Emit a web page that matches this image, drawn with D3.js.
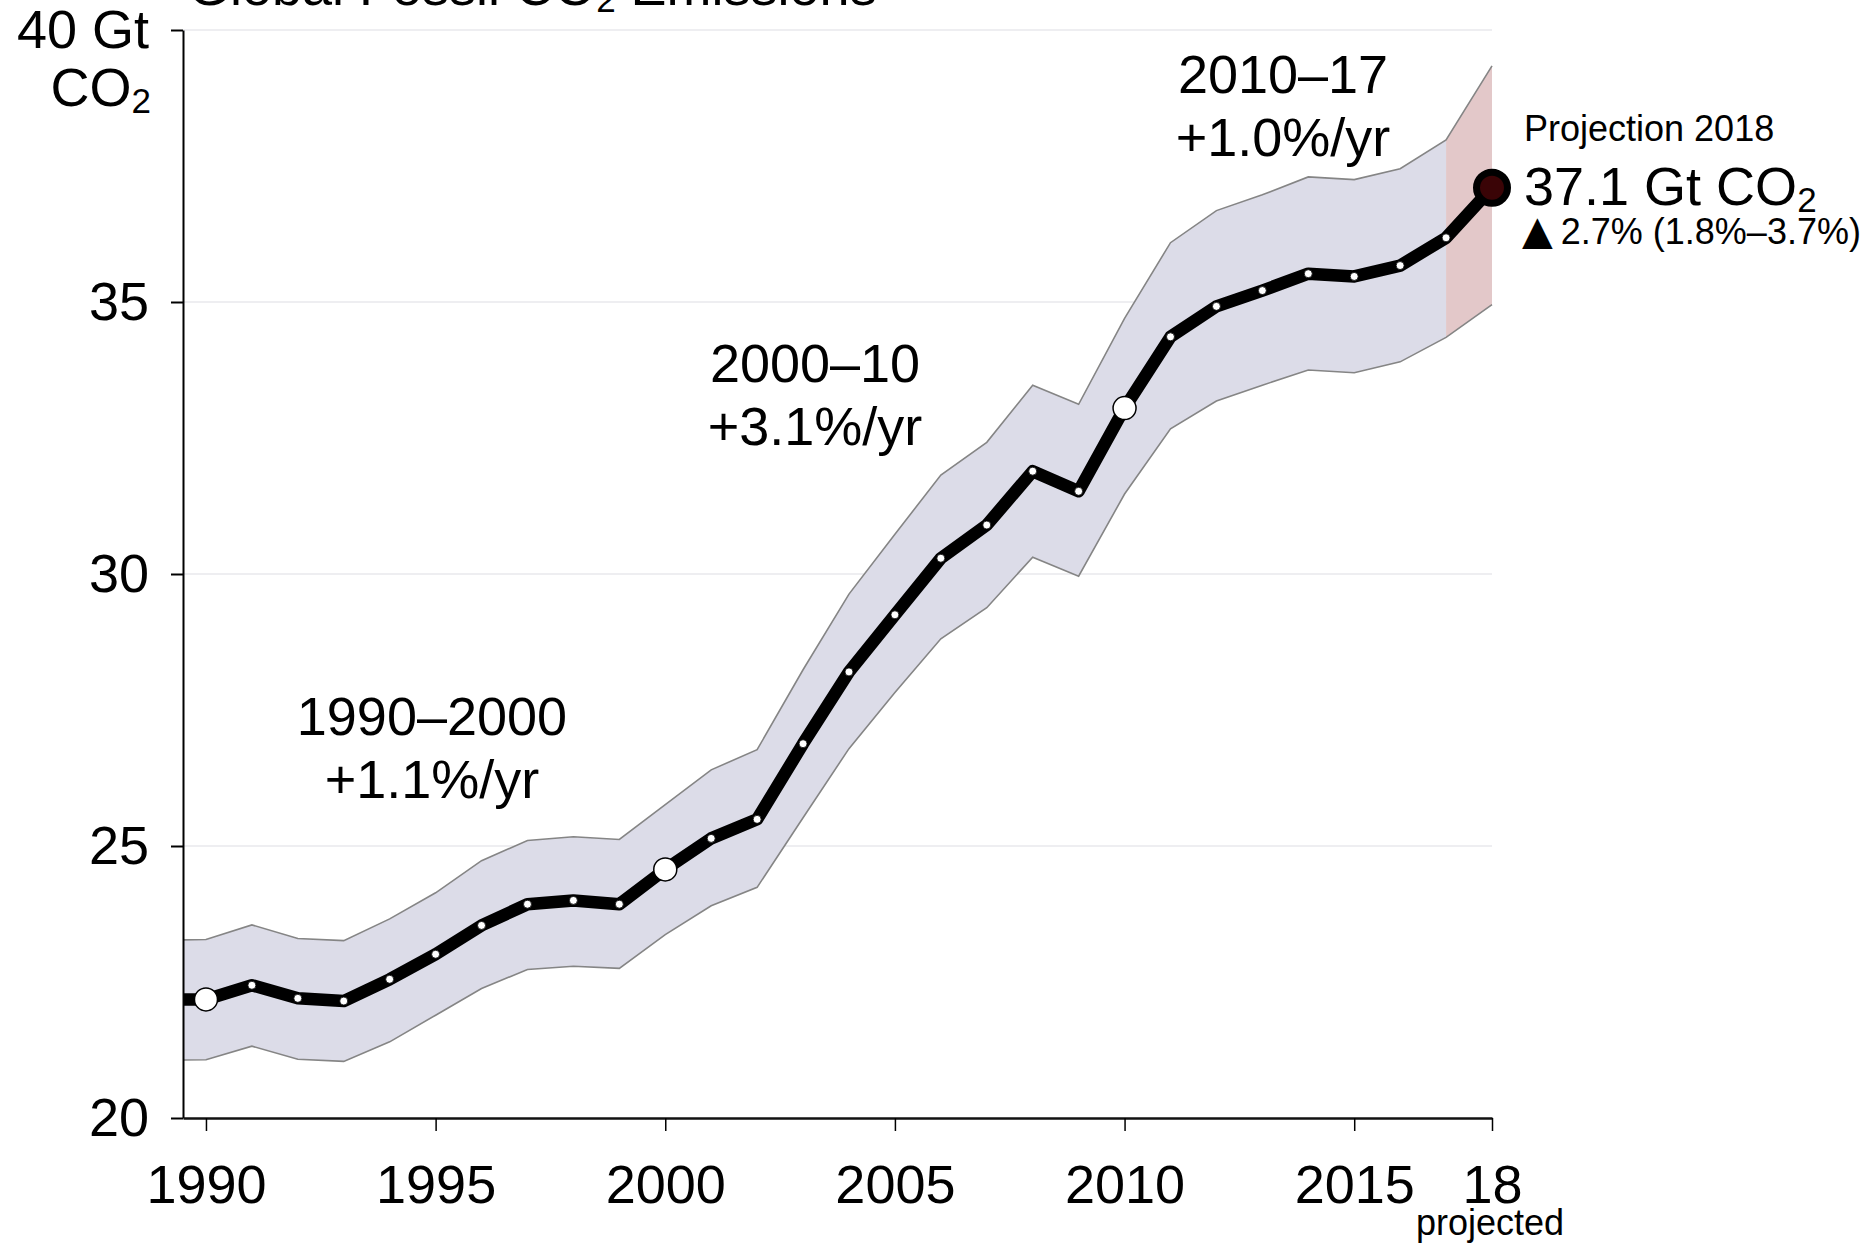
<!DOCTYPE html>
<html>
<head>
<meta charset="utf-8">
<script src="https://cdn.jsdelivr.net/npm/d3@7"></script>
<style>
  html, body { margin: 0; padding: 0; background: #fff; }
  svg { display: block; font-family: "Liberation Sans", Arial, Helvetica, sans-serif; }
</style>
</head>
<body>
<svg id="chart" width="1875" height="1246"></svg>
<script>
// Global fossil CO2 emissions, Gt CO2 per year (2018 is the projection)
const years = [1989, 1990, 1991, 1992, 1993, 1994, 1995, 1996, 1997, 1998, 1999,
               2000, 2001, 2002, 2003, 2004, 2005, 2006, 2007, 2008, 2009,
               2010, 2011, 2012, 2013, 2014, 2015, 2016, 2017, 2018];
const emissions = [22.18, 22.18, 22.44, 22.20, 22.15, 22.55, 23.01, 23.54, 23.93, 24.00, 23.93,
                   24.57, 25.14, 25.49, 26.88, 28.20, 29.25, 30.29, 30.90, 31.89, 31.52,
                   33.05, 34.36, 34.92, 35.21, 35.52, 35.47, 35.67, 36.18, 37.10];
const upperBound = [23.27, 23.28, 23.55, 23.30, 23.26, 23.66, 24.14, 24.73, 25.10, 25.17, 25.12,
                    25.76, 26.40, 26.77, 28.24, 29.63, 30.73, 31.82, 32.42, 33.47, 33.12,
                    34.70, 36.09, 36.68, 36.97, 37.30, 37.25, 37.45, 37.98, 39.34];
const lowerBound = [21.06, 21.07, 21.32, 21.08, 21.04, 21.40, 21.89, 22.38, 22.73, 22.79, 22.75,
                    23.37, 23.90, 24.24, 25.52, 26.79, 27.82, 28.81, 29.38, 30.31, 29.96,
                    31.47, 32.67, 33.18, 33.47, 33.75, 33.70, 33.90, 34.35, 34.95];

const markerYears = [1990, 2000, 2010];   // larger open circles
const projectionYear = 2018;

const xTickValues = [1990, 1995, 2000, 2005, 2010, 2015, 2018];
const xTickLabels = ["1990", "1995", "2000", "2005", "2010", "2015", "18"];
const yTickValues = [20, 25, 30, 35, 40];
const yTickLabels = ["20", "25", "30", "35", "40 Gt"];

// Growth-rate notes: centre year and baseline value of the first line
const periodNames = ["1990–2000", "2000–10", "2010–17"];
const periodRates = ["+1.1%/yr", "+3.1%/yr", "+1.0%/yr"];
const periodAnchorYear = [1994.92, 2003.26, 2013.45];
const periodAnchorValue = [27.04, 33.53, 38.84];

const projectionLabel = "Projection 2018";
const projectionValue = "37.1";
const projectionChange = "2.7% (1.8%–3.7%)";

// ---- layout ----
const svg = d3.select("#chart");
const FONT = 54;
const x = d3.scaleLinear().domain([1989.5, 2018]).range([183, 1492]);
const y = d3.scaleLinear().domain([20, 40]).range([1118, 30]);

const rows = years.map((yr, i) => ({ year: yr, value: emissions[i], hi: upperBound[i], lo: lowerBound[i] }));

svg.append("rect").attr("width", 1875).attr("height", 1246).attr("fill", "#fff");

// clip everything left of the value axis
svg.append("defs").append("clipPath").attr("id", "plotClip")
  .append("rect").attr("x", x.range()[0]).attr("y", 0).attr("width", 1600).attr("height", 1246);

// horizontal grid
svg.append("g").selectAll("line")
  .data(yTickValues.filter(v => v !== 20))
  .join("line")
  .attr("x1", x.range()[0]).attr("x2", x.range()[1])
  .attr("y1", d => y(d)).attr("y2", d => y(d))
  .attr("stroke", "#e8e8ec").attr("stroke-width", 1.5);

const plot = svg.append("g").attr("clip-path", "url(#plotClip)");

// uncertainty band: observed years in lavender, projected year in pink
const band = d3.area().x(d => x(d.year)).y0(d => y(d.lo)).y1(d => y(d.hi));
const observed = rows.filter(d => d.year <= 2017);
const projected = rows.filter(d => d.year >= 2017);
plot.append("path").datum(observed).attr("d", band).attr("fill", "#dcdce8");
plot.append("path").datum(projected).attr("d", band).attr("fill", "#e3c8c9");

const edge = key => d3.line().x(d => x(d.year)).y(d => y(d[key]));
["hi", "lo"].forEach(k => {
  plot.append("path").datum(rows).attr("d", edge(k))
    .attr("fill", "none").attr("stroke", "#858585").attr("stroke-width", 1.6);
});

// value axis
const yAxis = d3.axisLeft(y)
  .tickValues(yTickValues)
  .tickFormat((d, i) => yTickLabels[i])
  .tickSize(12).tickSizeOuter(0).tickPadding(22);
const gy = svg.append("g").attr("transform", `translate(${x.range()[0]},0)`).call(yAxis);
gy.attr("font-size", FONT).attr("font-family", null);
gy.select(".domain").attr("stroke", "#000").attr("stroke-width", 2);
gy.selectAll(".tick line").attr("stroke", "#000").attr("stroke-width", 2);
gy.selectAll(".tick text").attr("fill", "#000");

// unit line under "40 Gt"
const unit = svg.append("text").attr("x", 151).attr("y", 106)
  .attr("text-anchor", "end").attr("font-size", FONT).attr("fill", "#000");
unit.append("tspan").text("CO");
unit.append("tspan").attr("font-size", 35).attr("dy", 7).text("2");

// year axis
const xAxis = d3.axisBottom(x)
  .tickValues(xTickValues)
  .tickFormat((d, i) => xTickLabels[i])
  .tickSize(13).tickSizeOuter(0).tickPadding(34);
const gx = svg.append("g").attr("transform", `translate(0,${y.range()[0]})`).call(xAxis);
gx.attr("font-size", FONT).attr("font-family", null);
gx.select(".domain").attr("stroke", "#111").attr("stroke-width", 2.5);
gx.selectAll(".tick line").attr("stroke", "#000").attr("stroke-width", 1.5);
gx.selectAll(".tick text").attr("fill", "#000");

svg.append("text").attr("x", x(projectionYear) - 2).attr("y", 1235)
  .attr("text-anchor", "middle").attr("font-size", 36).attr("fill", "#000")
  .text("projected");

// emissions line
const line = d3.line().x(d => x(d.year)).y(d => y(d.value));
plot.append("path").datum(rows).attr("d", line)
  .attr("fill", "none").attr("stroke", "#000").attr("stroke-width", 12.5)
  .attr("stroke-linejoin", "round");

// yearly dots
const dotRows = rows.filter(d => d.year >= 1990 && d.year < projectionYear);
svg.append("g").selectAll("circle")
  .data(dotRows)
  .join("circle")
  .attr("cx", d => x(d.year)).attr("cy", d => y(d.value))
  .attr("r", d => markerYears.includes(d.year) ? 11.5 : 4)
  .attr("fill", "#fff")
  .attr("stroke", "#000")
  .attr("stroke-width", d => markerYears.includes(d.year) ? 1.5 : 0.8);

// projected point
const proj = rows.find(d => d.year === projectionYear);
svg.append("circle")
  .attr("cx", x(proj.year)).attr("cy", y(proj.value)).attr("r", 15.5)
  .attr("fill", "#3a0406").attr("stroke", "#000").attr("stroke-width", 7);

// growth-rate notes
const notes = svg.append("g").attr("font-size", FONT).attr("fill", "#000").attr("text-anchor", "middle");
periodNames.forEach((name, i) => {
  const cx = x(periodAnchorYear[i]);
  const cy = y(periodAnchorValue[i]);
  notes.append("text").attr("x", cx).attr("y", cy).text(name);
  notes.append("text").attr("x", cx).attr("y", cy + 63).text(periodRates[i]);
});

// projection callout
const tx = 1524;
svg.append("text").attr("x", tx).attr("y", 141).attr("font-size", 36).attr("fill", "#000")
  .text(projectionLabel);
const big = svg.append("text").attr("x", tx).attr("y", 205).attr("font-size", FONT).attr("fill", "#000");
big.append("tspan").text(projectionValue + " Gt CO");
big.append("tspan").attr("font-size", 35).attr("dy", 7).text("2");
const chg = svg.append("text").attr("x", tx - 2).attr("y", 244).attr("font-size", 36).attr("fill", "#000");
chg.append("tspan").attr("font-family", "DejaVu Sans").attr("font-size", 40).text("▲");
chg.append("tspan").attr("dx", 8).text(projectionChange);

// title, mostly above the top edge
const title = svg.append("text").attr("x", 188).attr("y", 5).attr("font-size", FONT).attr("fill", "#000");
title.append("tspan").text("Global Fossil CO");
title.append("tspan").attr("font-size", 35).attr("dy", 7).text("2");
title.append("tspan").attr("dy", -7).text(" Emissions");
</script>
</body>
</html>
